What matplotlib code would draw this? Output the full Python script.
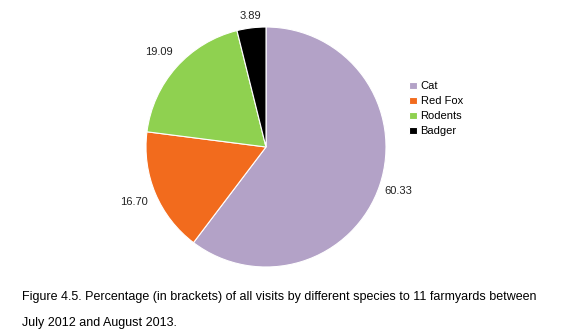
import matplotlib
matplotlib.use("Agg")
import matplotlib.pyplot as plt
import numpy as np

plt.rcParams['font.family'] = ['Liberation Sans', 'DejaVu Sans']

categories = ["Cat", "Red Fox", "Rodents", "Badger"]
values = [60.33, 16.70, 19.09, 3.89]
colors = ["#B3A2C7", "#F26B1D", "#8FD150", "#000000"]
value_labels = ["60.33", "16.70", "19.09", "3.89"]
label_dist = [1.16, 1.19, 1.19, 1.10]

fig = plt.figure(figsize=(5.68, 3.31), dpi=100)
fig.patch.set_facecolor("white")

cx, cy, r = 266 / 568, 1 - 147 / 331, 120
ax = fig.add_axes([cx - r / 568, cy - r / 331, 2 * r / 568, 2 * r / 331])
wedges, _ = ax.pie(values, colors=colors, startangle=90, counterclock=False,
                   wedgeprops=dict(linewidth=0.8, edgecolor="white"))
for w, lab, d in zip(wedges, value_labels, label_dist):
    ang = np.deg2rad((w.theta1 + w.theta2) / 2)
    ax.text(d * np.cos(ang), d * np.sin(ang), lab, ha="center", va="center",
            fontsize=8, color="#222222")
ax.set_xlim(-1, 1)
ax.set_ylim(-1, 1)
ax.set_aspect("equal")
ax.axis("off")

leg = fig.legend(wedges, categories, loc="upper left", bbox_to_anchor=(405 / 568, 1 - 77 / 331),
                 frameon=False, fontsize=8, handlelength=0.7, handleheight=0.7,
                 handletextpad=0.3, labelspacing=0.45, borderaxespad=0)

fig.text(22 / 568, 1 - 297 / 331,
         "Figure 4.5. Percentage (in brackets) of all visits by different species to 11 farmyards between",
         fontsize=9.0, va="center", ha="left")
fig.text(22 / 568, 1 - 323 / 331, "July 2012 and August 2013.",
         fontsize=9.0, va="center", ha="left")

fig.savefig("out.png", dpi=100)
